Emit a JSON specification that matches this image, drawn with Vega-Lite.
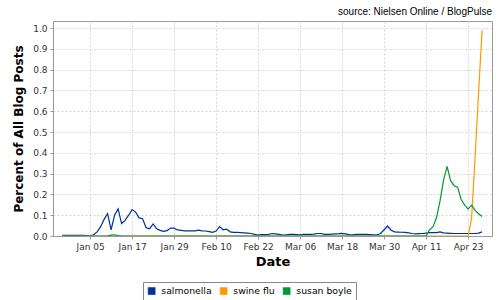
{
  "$schema": "https://vega.github.io/schema/vega-lite/v6.json",
  "width": 439,
  "height": 215,
  "autosize": "none",
  "padding": {"left": 53, "top": 21, "right": 8, "bottom": 64},
  "background": "white",
  "title": {"text": "source: Nielsen Online / BlogPulse", "anchor": "end", "frame": "group", "orient": "top", "offset": 4, "fontSize": 10, "fontWeight": "normal", "font": "Liberation Sans", "color": "#000"},
  "data": {"values": [
{"date":"2008-12-28","series":"salmonella","value":0.003},
{"date":"2008-12-29","series":"salmonella","value":0.003},
{"date":"2008-12-30","series":"salmonella","value":0.003},
{"date":"2008-12-31","series":"salmonella","value":0.003},
{"date":"2009-01-01","series":"salmonella","value":0.003},
{"date":"2009-01-02","series":"salmonella","value":0.003},
{"date":"2009-01-03","series":"salmonella","value":0.003},
{"date":"2009-01-04","series":"salmonella","value":0.002},
{"date":"2009-01-05","series":"salmonella","value":0.0},
{"date":"2009-01-06","series":"salmonella","value":0.006},
{"date":"2009-01-07","series":"salmonella","value":0.02},
{"date":"2009-01-08","series":"salmonella","value":0.045},
{"date":"2009-01-09","series":"salmonella","value":0.08},
{"date":"2009-01-10","series":"salmonella","value":0.108},
{"date":"2009-01-11","series":"salmonella","value":0.03},
{"date":"2009-01-12","series":"salmonella","value":0.1},
{"date":"2009-01-13","series":"salmonella","value":0.13},
{"date":"2009-01-14","series":"salmonella","value":0.06},
{"date":"2009-01-15","series":"salmonella","value":0.075},
{"date":"2009-01-16","series":"salmonella","value":0.1},
{"date":"2009-01-17","series":"salmonella","value":0.127},
{"date":"2009-01-18","series":"salmonella","value":0.115},
{"date":"2009-01-19","series":"salmonella","value":0.087},
{"date":"2009-01-20","series":"salmonella","value":0.083},
{"date":"2009-01-21","series":"salmonella","value":0.04},
{"date":"2009-01-22","series":"salmonella","value":0.035},
{"date":"2009-01-23","series":"salmonella","value":0.058},
{"date":"2009-01-24","series":"salmonella","value":0.035},
{"date":"2009-01-25","series":"salmonella","value":0.027},
{"date":"2009-01-26","series":"salmonella","value":0.022},
{"date":"2009-01-27","series":"salmonella","value":0.026},
{"date":"2009-01-28","series":"salmonella","value":0.038},
{"date":"2009-01-29","series":"salmonella","value":0.038},
{"date":"2009-01-30","series":"salmonella","value":0.029},
{"date":"2009-01-31","series":"salmonella","value":0.027},
{"date":"2009-02-01","series":"salmonella","value":0.025},
{"date":"2009-02-02","series":"salmonella","value":0.025},
{"date":"2009-02-03","series":"salmonella","value":0.025},
{"date":"2009-02-04","series":"salmonella","value":0.025},
{"date":"2009-02-05","series":"salmonella","value":0.028},
{"date":"2009-02-06","series":"salmonella","value":0.025},
{"date":"2009-02-07","series":"salmonella","value":0.024},
{"date":"2009-02-08","series":"salmonella","value":0.021},
{"date":"2009-02-09","series":"salmonella","value":0.018},
{"date":"2009-02-10","series":"salmonella","value":0.024},
{"date":"2009-02-11","series":"salmonella","value":0.045},
{"date":"2009-02-12","series":"salmonella","value":0.03},
{"date":"2009-02-13","series":"salmonella","value":0.033},
{"date":"2009-02-14","series":"salmonella","value":0.02},
{"date":"2009-02-15","series":"salmonella","value":0.017},
{"date":"2009-02-16","series":"salmonella","value":0.017},
{"date":"2009-02-17","series":"salmonella","value":0.016},
{"date":"2009-02-18","series":"salmonella","value":0.015},
{"date":"2009-02-19","series":"salmonella","value":0.014},
{"date":"2009-02-20","series":"salmonella","value":0.012},
{"date":"2009-02-21","series":"salmonella","value":0.008},
{"date":"2009-02-22","series":"salmonella","value":0.004},
{"date":"2009-02-23","series":"salmonella","value":0.007},
{"date":"2009-02-24","series":"salmonella","value":0.007},
{"date":"2009-02-25","series":"salmonella","value":0.008},
{"date":"2009-02-26","series":"salmonella","value":0.012},
{"date":"2009-02-27","series":"salmonella","value":0.01},
{"date":"2009-02-28","series":"salmonella","value":0.008},
{"date":"2009-03-01","series":"salmonella","value":0.004},
{"date":"2009-03-02","series":"salmonella","value":0.006},
{"date":"2009-03-03","series":"salmonella","value":0.008},
{"date":"2009-03-04","series":"salmonella","value":0.008},
{"date":"2009-03-05","series":"salmonella","value":0.007},
{"date":"2009-03-06","series":"salmonella","value":0.006},
{"date":"2009-03-07","series":"salmonella","value":0.008},
{"date":"2009-03-08","series":"salmonella","value":0.008},
{"date":"2009-03-09","series":"salmonella","value":0.008},
{"date":"2009-03-10","series":"salmonella","value":0.009},
{"date":"2009-03-11","series":"salmonella","value":0.012},
{"date":"2009-03-12","series":"salmonella","value":0.012},
{"date":"2009-03-13","series":"salmonella","value":0.008},
{"date":"2009-03-14","series":"salmonella","value":0.008},
{"date":"2009-03-15","series":"salmonella","value":0.009},
{"date":"2009-03-16","series":"salmonella","value":0.01},
{"date":"2009-03-17","series":"salmonella","value":0.011},
{"date":"2009-03-18","series":"salmonella","value":0.013},
{"date":"2009-03-19","series":"salmonella","value":0.01},
{"date":"2009-03-20","series":"salmonella","value":0.007},
{"date":"2009-03-21","series":"salmonella","value":0.005},
{"date":"2009-03-22","series":"salmonella","value":0.008},
{"date":"2009-03-23","series":"salmonella","value":0.008},
{"date":"2009-03-24","series":"salmonella","value":0.008},
{"date":"2009-03-25","series":"salmonella","value":0.008},
{"date":"2009-03-26","series":"salmonella","value":0.007},
{"date":"2009-03-27","series":"salmonella","value":0.006},
{"date":"2009-03-28","series":"salmonella","value":0.005},
{"date":"2009-03-29","series":"salmonella","value":0.012},
{"date":"2009-03-30","series":"salmonella","value":0.03},
{"date":"2009-03-31","series":"salmonella","value":0.048},
{"date":"2009-04-01","series":"salmonella","value":0.028},
{"date":"2009-04-02","series":"salmonella","value":0.02},
{"date":"2009-04-03","series":"salmonella","value":0.019},
{"date":"2009-04-04","series":"salmonella","value":0.018},
{"date":"2009-04-05","series":"salmonella","value":0.017},
{"date":"2009-04-06","series":"salmonella","value":0.015},
{"date":"2009-04-07","series":"salmonella","value":0.012},
{"date":"2009-04-08","series":"salmonella","value":0.01},
{"date":"2009-04-09","series":"salmonella","value":0.011},
{"date":"2009-04-10","series":"salmonella","value":0.012},
{"date":"2009-04-11","series":"salmonella","value":0.014},
{"date":"2009-04-12","series":"salmonella","value":0.016},
{"date":"2009-04-13","series":"salmonella","value":0.016},
{"date":"2009-04-14","series":"salmonella","value":0.016},
{"date":"2009-04-15","series":"salmonella","value":0.02},
{"date":"2009-04-16","series":"salmonella","value":0.015},
{"date":"2009-04-17","series":"salmonella","value":0.014},
{"date":"2009-04-18","series":"salmonella","value":0.013},
{"date":"2009-04-19","series":"salmonella","value":0.012},
{"date":"2009-04-20","series":"salmonella","value":0.012},
{"date":"2009-04-21","series":"salmonella","value":0.012},
{"date":"2009-04-22","series":"salmonella","value":0.012},
{"date":"2009-04-23","series":"salmonella","value":0.012},
{"date":"2009-04-24","series":"salmonella","value":0.012},
{"date":"2009-04-25","series":"salmonella","value":0.012},
{"date":"2009-04-26","series":"salmonella","value":0.014},
{"date":"2009-04-27","series":"salmonella","value":0.02},
{"date":"2008-12-28","series":"swine flu","value":0},
{"date":"2009-01-15","series":"swine flu","value":0},
{"date":"2009-02-15","series":"swine flu","value":0},
{"date":"2009-03-15","series":"swine flu","value":0},
{"date":"2009-04-10","series":"swine flu","value":0},
{"date":"2009-04-23","series":"swine flu","value":0},
{"date":"2009-04-24","series":"swine flu","value":0.085},
{"date":"2009-04-25","series":"swine flu","value":0.38},
{"date":"2009-04-26","series":"swine flu","value":0.69},
{"date":"2009-04-27","series":"swine flu","value":0.99},
{"date":"2008-12-28","series":"susan boyle","value":0},
{"date":"2009-01-05","series":"susan boyle","value":0},
{"date":"2009-01-10","series":"susan boyle","value":0},
{"date":"2009-01-11","series":"susan boyle","value":0.004},
{"date":"2009-01-12","series":"susan boyle","value":0.006},
{"date":"2009-01-13","series":"susan boyle","value":0.002},
{"date":"2009-01-14","series":"susan boyle","value":0},
{"date":"2009-02-15","series":"susan boyle","value":0},
{"date":"2009-03-15","series":"susan boyle","value":0},
{"date":"2009-04-11","series":"susan boyle","value":0},
{"date":"2009-04-12","series":"susan boyle","value":0.03},
{"date":"2009-04-13","series":"susan boyle","value":0.045},
{"date":"2009-04-14","series":"susan boyle","value":0.09},
{"date":"2009-04-15","series":"susan boyle","value":0.17},
{"date":"2009-04-16","series":"susan boyle","value":0.27},
{"date":"2009-04-17","series":"susan boyle","value":0.335},
{"date":"2009-04-18","series":"susan boyle","value":0.266},
{"date":"2009-04-19","series":"susan boyle","value":0.242},
{"date":"2009-04-20","series":"susan boyle","value":0.235},
{"date":"2009-04-21","series":"susan boyle","value":0.177},
{"date":"2009-04-22","series":"susan boyle","value":0.15},
{"date":"2009-04-23","series":"susan boyle","value":0.129},
{"date":"2009-04-24","series":"susan boyle","value":0.148},
{"date":"2009-04-25","series":"susan boyle","value":0.123},
{"date":"2009-04-26","series":"susan boyle","value":0.107},
{"date":"2009-04-27","series":"susan boyle","value":0.094}
  ]},
  "mark": {"type": "line", "strokeWidth": 1.2, "clip": true},
  "encoding": {
    "x": {
      "field": "date", "type": "temporal",
      "scale": {"type": "utc", "domain": [
        {"year": 2008, "month": 12, "date": 25, "hours": 9, "minutes": 36, "utc": true},
        {"year": 2009, "month": 4, "date": 29, "hours": 20, "utc": true}
      ]},
      "axis": {
        "title": "Date",
        "labelExpr": "utcFormat(datum.value, '%b %d')",
        "values": [
          {"year": 2009, "month": 1, "date": 5, "utc": true},
          {"year": 2009, "month": 1, "date": 17, "utc": true},
          {"year": 2009, "month": 1, "date": 29, "utc": true},
          {"year": 2009, "month": 2, "date": 10, "utc": true},
          {"year": 2009, "month": 2, "date": 22, "utc": true},
          {"year": 2009, "month": 3, "date": 6, "utc": true},
          {"year": 2009, "month": 3, "date": 18, "utc": true},
          {"year": 2009, "month": 3, "date": 30, "utc": true},
          {"year": 2009, "month": 4, "date": 11, "utc": true},
          {"year": 2009, "month": 4, "date": 23, "utc": true}
        ],
        "labelPadding": 3, "titlePadding": 4, "labelFlush": false, "labelOverlap": false
      }
    },
    "y": {
      "field": "value", "type": "quantitative",
      "scale": {"domain": [0, 1.034], "nice": false, "zero": true},
      "axis": {
        "title": "Percent of All Blog Posts", "format": ".1f",
        "values": [0, 0.1, 0.2, 0.3, 0.4, 0.5, 0.6, 0.7, 0.8, 0.9, 1.0],
        "labelPadding": 3, "titlePadding": 7, "titleFontSize": 12
      }
    },
    "color": {
      "field": "series", "type": "nominal",
      "scale": {"domain": ["salmonella", "swine flu", "susan boyle"], "range": ["#003399", "#ff9900", "#009933"]},
      "legend": {
        "title": null, "orient": "none", "direction": "horizontal",
        "legendX": 90, "legendY": 261,
        "symbolType": "square", "symbolSize": 49, "symbolStrokeWidth": 1, "symbolOpacity": 1,
        "labelFont": "DejaVu Sans", "labelFontSize": 9.3, "labelColor": "#000",
        "labelOffset": 5, "columnPadding": 6,
        "strokeColor": "#888", "padding": 4, "fillColor": "white",
        "encode": {"symbols": {"update": {"fill": {"scale": "color", "field": "value"}, "stroke": {"scale": "color", "field": "value"}, "strokeOpacity": {"value": 0.6}}}}
      }
    }
  },
  "config": {
    "view": {"stroke": "#999", "strokeWidth": 1},
    "axis": {
      "domainColor": "#999", "tickColor": "#999", "tickSize": 3,
      "gridColor": "#d4d4d4", "gridDash": [2, 2], "grid": true,
      "labelFont": "DejaVu Sans", "labelFontSize": 9, "labelColor": "#333",
      "titleFont": "DejaVu Sans", "titleFontWeight": "bold", "titleFontSize": 13, "titleColor": "#000"
    }
  }
}
